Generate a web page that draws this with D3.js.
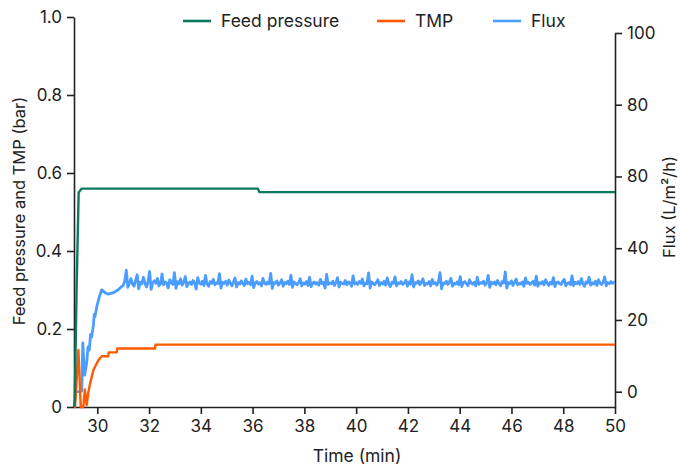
<!DOCTYPE html>
<html>
<head>
<meta charset="utf-8">
<script src="https://cdn.jsdelivr.net/npm/d3@7"></script>
<style>
  body { margin: 0; background: #fff; }
  svg { display: block; }
  .axis text { font-family: Inter, "Liberation Sans", sans-serif; font-size: 17px; fill: #222; }
  .axis path, .axis line { stroke: #222; stroke-width: 1.6; }
</style>
</head>
<body>
<div id="plot"></div>
<script>
// Data
const seriesNames = ["Feed pressure", "TMP", "Flux"];
const seriesColors = ["#0b7a5f", "#ff5a00", "#4a9dff"];

// [time (min), bar]
const feedPressure = [
  [29.1, 0], [29.13, 0.02], [29.2, 0.3], [29.28, 0.55], [29.4, 0.56],
  [36.2, 0.56], [36.26, 0.551], [50, 0.551]
];

// [time (min), bar]
const tmp = [
  [29.1, 0], [29.14, 0], [29.27, 0.146], [29.3, 0.1], [29.36, 0], [29.46, 0],
  [29.52, 0.045], [29.59, 0.005], [29.66, 0.04], [29.72, 0.06], [29.85, 0.095],
  [30.04, 0.12], [30.17, 0.13], [30.42, 0.13], [30.44, 0.14], [30.75, 0.14],
  [30.77, 0.15], [32.23, 0.15], [32.25, 0.16], [50, 0.16]
];

// [time (min), L/m2/h] start-up part of flux
const fluxStartup = [
  [29.14, 0], [29.2, 0], [29.3, 0], [29.4, 0.2], [29.44, 13.6], [29.51, 4.6],
  [29.59, 8], [29.64, 12.5], [29.69, 11.6], [29.74, 16], [29.78, 15.2], [29.85, 18.6],
  [29.88, 21.5], [29.91, 20.9], [29.98, 23.7], [30.08, 26.5], [30.17, 28.4],
  [30.3, 27.6], [30.42, 27.2], [30.62, 27.6], [30.81, 28.4], [30.94, 29.3]
];

// flux samples after start-up, one every fluxStep min from fluxStart
const fluxStart = 31.0, fluxStep = 0.06;
const fluxNoisy = [
  29.6, 30.8, 33.9, 29.1, 30.2, 31.5, 30.0, 29.4, 31.0, 32.6, 28.7, 30.5, 30.1, 31.9, 30.3, 29.2, 30.6, 33.5, 28.5, 30.4,
  30.9, 30.2, 31.6, 29.5, 30.0, 32.8, 29.8, 30.6, 30.3, 28.9, 31.2, 30.4, 29.9, 33.2, 28.8, 30.7, 30.1, 31.4, 29.7, 30.5,
  32.1, 29.3, 30.2, 30.6, 29.9, 31.0, 30.4, 28.6, 31.8, 30.3, 30.0, 30.8, 29.6, 32.4, 30.1, 29.4, 30.7, 30.2, 31.3, 29.8,
  30.4, 30.1, 32.9, 28.9, 30.5, 30.2, 30.8, 29.7, 31.1, 30.3, 29.5, 30.6, 31.7, 29.2, 30.4, 30.0, 30.9, 30.2, 29.6, 31.4,
  30.1, 30.5, 29.8, 32.2, 29.0, 30.3, 30.7, 30.0, 30.4, 29.5, 31.6, 30.2, 29.9, 30.6, 30.1, 33.0, 28.8, 30.4, 30.2, 30.9,
  29.7, 30.3, 31.2, 29.4, 30.5, 30.1, 30.8, 29.9, 32.5, 29.1, 30.6, 30.2, 29.8, 30.4, 31.5, 29.5, 30.3, 30.0, 30.7, 29.6,
  31.9, 29.3, 30.2, 30.6, 30.0, 30.4, 29.7, 31.3, 30.1, 30.5, 28.9, 32.7, 29.9, 30.3, 30.1, 30.8, 29.6, 30.4, 31.8, 29.2,
  30.5, 30.2, 30.0, 31.0, 29.8, 30.6, 30.3, 29.4, 32.3, 30.0, 30.4, 29.9, 30.7, 30.2, 31.4, 29.5, 30.3, 30.1, 33.1, 28.9,
  30.6, 30.2, 29.8, 30.5, 31.2, 29.6, 30.4, 30.0, 30.8, 29.7, 31.7, 30.1, 29.3, 30.5, 30.2, 32.0, 29.5, 30.4, 30.1, 30.7,
  29.9, 30.3, 31.1, 29.4, 30.6, 30.0, 32.6, 29.2, 30.4, 30.2, 30.9, 29.8, 30.5, 31.5, 29.6, 30.2, 30.0, 30.7, 29.5, 31.3,
  30.1, 30.4, 29.7, 30.6, 33.2, 28.7, 30.3, 30.1, 30.8, 29.9, 30.5, 31.6, 29.4, 30.2, 30.0, 30.6, 29.8, 32.1, 29.3, 30.4,
  30.7, 30.1, 29.6, 31.2, 30.3, 30.0, 30.5, 29.5, 31.9, 29.9, 30.4, 30.2, 30.8, 29.7, 30.3, 32.4, 29.1, 30.5, 30.1, 30.6,
  29.8, 31.0, 30.2, 29.5, 30.7, 30.3, 33.4, 28.9, 30.4, 30.1, 30.9, 29.6, 30.5, 31.4, 29.8, 30.2, 30.0, 30.6, 29.4, 31.7,
  30.2, 30.5, 29.9, 30.3, 30.8, 29.7, 32.2, 29.4, 30.4, 30.1, 30.7, 29.8, 31.2, 30.3, 29.6, 30.5, 30.0, 31.8, 29.3, 30.4,
  30.6, 30.1, 29.9, 30.8, 31.3, 29.5, 30.2, 30.4, 29.8, 32.3, 29.6, 30.5, 30.1, 30.7, 29.9, 31.5, 30.2, 29.4, 30.6, 30.3,
  31.9, 29.7, 30.4, 30.0, 30.8, 29.6, 31.2, 30.3, 29.9, 30.5, 32.0, 29.5, 30.4, 30.1, 30.7, 30.2, 30.5
];
const fluxLast = [50, 30.6];

const xTicks = [30, 32, 34, 36, 38, 40, 42, 44, 46, 48, 50];
const leftTicks = [0, 0.2, 0.4, 0.6, 0.8, 1.0];
const leftTickLabels = ["0", "0.2", "0.4", "0.6", "0.8", "1.0"];
const rightTicks = [0, 20, 40, 60, 80, 100];
const rightTickLabels = ["0", "20", "40", "80", "80", "100"];

const W = 680, H = 466;
const left = 74, right = 615, bottom = 407;

const flux = fluxStartup
    .concat(fluxNoisy.map((v, i) => [fluxStart + i * fluxStep, v]))
    .concat([fluxLast]);

const svg = d3.select("#plot").append("svg")
    .attr("width", W)
    .attr("height", H);

const x = d3.scaleLinear().domain([29.1, 50]).range([left, right]);
const yL = d3.scaleLinear().domain([0, 1]).range([bottom, 17]);
const yR = d3.scaleLinear().domain([-4.27, 100]).range([bottom, 33]);

// axes
svg.append("g")
    .attr("class", "axis")
    .attr("transform", `translate(0,${bottom})`)
    .call(d3.axisBottom(x).tickValues(xTicks).tickFormat(d3.format("d")).tickSize(7).tickSizeOuter(0).tickPadding(6));

svg.append("g")
    .attr("class", "axis")
    .attr("transform", `translate(${left},0)`)
    .call(d3.axisLeft(yL).tickValues(leftTicks).tickFormat((d, i) => leftTickLabels[i]).tickSize(7).tickSizeOuter(0).tickPadding(5));

svg.append("g")
    .attr("class", "axis")
    .attr("transform", `translate(${right},0)`)
    .call(d3.axisRight(yR).tickValues(rightTicks).tickFormat((d, i) => rightTickLabels[i]).tickSize(7).tickSizeOuter(0).tickPadding(5));

// lines
const lineL = d3.line().x(d => x(d[0])).y(d => yL(d[1]));
const lineR = d3.line().x(d => x(d[0])).y(d => yR(d[1]));

svg.append("path").datum(flux)
    .attr("d", lineR).attr("fill", "none")
    .attr("stroke", seriesColors[2]).attr("stroke-width", 2.8).attr("stroke-linejoin", "round");

svg.append("path").datum(tmp)
    .attr("d", lineL).attr("fill", "none")
    .attr("stroke", seriesColors[1]).attr("stroke-width", 2.4).attr("stroke-linejoin", "round");

svg.append("path").datum(feedPressure)
    .attr("d", lineL).attr("fill", "none")
    .attr("stroke", seriesColors[0]).attr("stroke-width", 2.4).attr("stroke-linejoin", "round");

// axis titles
const titleStyle = sel => sel
    .attr("font-family", "Inter, 'Liberation Sans', sans-serif")
    .attr("font-size", "16.5px")
    .attr("fill", "#222")
    .attr("text-anchor", "middle");

svg.append("text").call(titleStyle)
    .attr("x", 357).attr("y", 462)
    .attr("font-size", "17.5px")
    .text("Time (min)");

svg.append("text").call(titleStyle)
    .attr("transform", "translate(25,211) rotate(-90)")
    .text("Feed pressure and TMP (bar)");

svg.append("text").call(titleStyle)
    .attr("transform", "translate(675,207) rotate(-90)")
    .text("Flux (L/m²/h)");

// legend
const legendX = [183, 377, 493];
const legend = svg.selectAll(".legend")
    .data(seriesNames)
    .join("g")
    .attr("class", "legend")
    .attr("transform", (d, i) => `translate(${legendX[i]},21)`);

legend.append("line")
    .attr("x1", 0).attr("x2", 28)
    .attr("stroke", (d, i) => seriesColors[i])
    .attr("stroke-width", 2.6);

legend.append("text")
    .attr("x", 38).attr("y", 6)
    .attr("font-family", "Inter, sans-serif")
    .attr("font-size", "17.5px")
    .attr("fill", "#222")
    .text(d => d);
</script>
</body>
</html>
